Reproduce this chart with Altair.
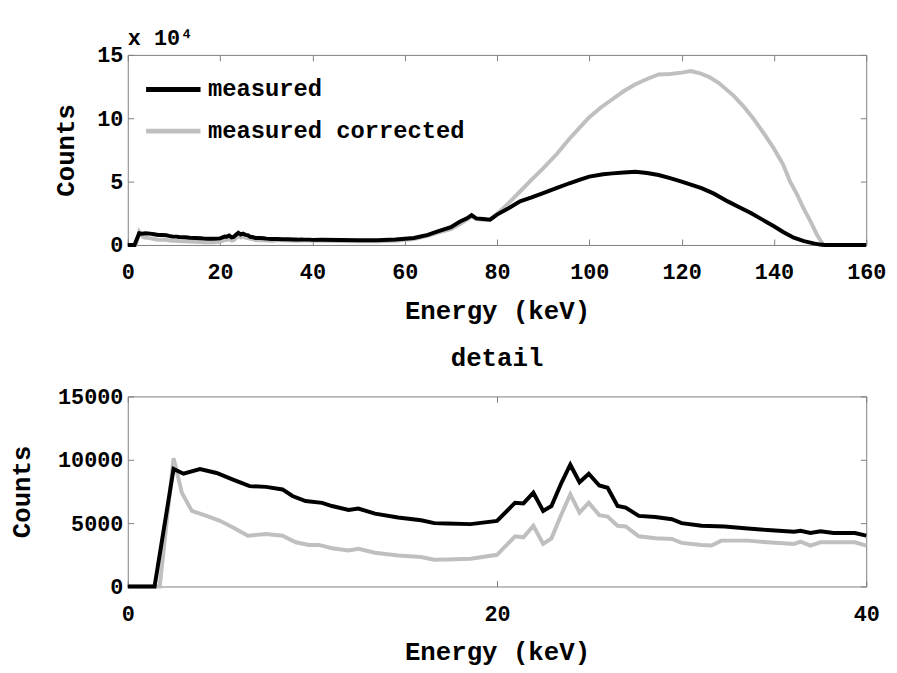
import altair as alt
import pandas as pd

FONT = "Liberation Mono"
BLACK = "#000000"
GRAY = "#bfbfbf"
FRAME = "#808080"

# ---- detail (0-40 keV) values ----
energy_measured_lo = [0, 1.45, 2.48, 3.02, 3.91, 4.81, 5.70, 6.60, 7.49, 8.38,
                      8.92, 9.63, 10.53, 11.06, 11.96, 12.49, 13.39, 14.64, 15.89, 16.6,
                      17.3, 18.57, 20.0, 20.98, 21.43, 21.97, 22.5, 22.95, 23.49, 23.97,
                      24.47, 24.97, 25.54, 25.99, 26.53, 26.97, 27.68, 28.58, 29.47, 30.0,
                      31.08, 32.33, 33.58, 34.65, 36.09, 36.44, 36.98, 37.52, 38.23, 39.39,
                      40.0]
counts_measured_lo = [0, 0, 9270, 8900, 9270, 8960, 8440, 7920, 7860, 7660,
                      7140, 6740, 6600, 6350, 6040, 6150, 5750, 5440, 5230, 5000,
                      4970, 4920, 5180, 6610, 6560, 7400, 5960, 6350, 8180, 9610,
                      8230, 8900, 7970, 7790, 6350, 6220, 5570, 5490, 5310, 5000,
                      4790, 4740, 4580, 4450, 4320, 4400, 4220, 4350, 4220, 4220,
                      4010]

energy_corrected_lo = [0, 1.73, 2.48, 2.93, 3.47, 4.27, 4.99, 5.70, 6.51, 7.49,
                       8.38, 9.1, 9.81, 10.35, 11.06, 11.96, 12.49, 13.39, 14.64, 15.89,
                       16.6, 17.3, 18.57, 20.0, 20.98, 21.43, 21.97, 22.5, 22.95, 23.49,
                       23.97, 24.47, 24.97, 25.54, 25.99, 26.53, 26.97, 27.68, 28.58, 29.47,
                       30.0, 31.08, 31.62, 32.15, 33.58, 34.65, 36.09, 36.44, 36.98, 37.52,
                       39.39, 40.0]
counts_corrected_lo = [0, 0, 10130, 7400, 5960, 5570, 5180, 4660, 4010, 4140,
                       4010, 3490, 3280, 3280, 3020, 2840, 2970, 2660, 2450, 2320,
                       2110, 2130, 2190, 2500, 3960, 3880, 4790, 3360, 3800, 5700,
                       7270, 5830, 6610, 5630, 5520, 4790, 4740, 3960, 3800, 3750,
                       3440, 3280, 3230, 3620, 3620, 3490, 3360, 3540, 3230, 3490,
                       3490, 3230]

# ---- rest of the spectrum (40-160 keV) ----
energy_measured_hi = [42, 46, 50, 54, 58, 62, 65, 67, 70, 72,
                      73.5, 74.5, 75.5, 77, 78.5, 80, 82.5, 85, 87.5, 90,
                      93, 95.7, 98, 100, 103, 105, 107.5, 110, 112.5, 115,
                      117.5, 120, 124.3, 127, 130, 132.5, 135, 137.5, 140, 142,
                      144.3, 146.5, 148.6, 150, 151, 160]
counts_measured_hi = [4100, 3900, 3800, 3800, 4300, 5500, 8000, 10500, 14000, 18500,
                      21000, 23500, 21000, 20500, 20000, 24000, 29000, 34400, 37500, 40900,
                      45000, 48700, 51500, 53900, 55800, 56500, 57200, 57800, 56800, 55200,
                      52800, 50000, 44800, 40500, 34400, 29800, 25200, 20000, 14800, 10200,
                      5700, 3000, 1300, 300, 0, 0]

energy_corrected_hi = [42, 46, 50, 54, 58, 62, 65, 67, 70, 72,
                       73.5, 74.5, 75.5, 77, 78.5, 80, 82.5, 85, 87.5, 90,
                       93, 95.7, 98, 100, 102.5, 105, 107.5, 110, 112.5, 115,
                       117.5, 120, 122, 124, 126, 128, 131.3, 133.5, 135.6, 138,
                       140, 142, 143.5, 145, 146.4, 148, 149.3, 150.7, 152, 160]
counts_corrected_hi = [3300, 3100, 3000, 3000, 3400, 4600, 7200, 9500, 12500, 16500,
                       20000, 22500, 20500, 19800, 20000, 24500, 33000, 42200, 51500, 60400,
                       72000, 83800, 93000, 100800, 108500, 115000, 121500, 126800, 131000, 134600,
                       135000, 136000, 137200, 135500, 132500, 128000, 117700, 109000, 99500, 87000,
                       76000, 63500, 50000, 40000, 29000, 18000, 8300, 0, 0, 0]

series_names = ["measured", "measured corrected"]
top_x_ticks = [0, 20, 40, 60, 80, 100, 120, 140, 160]
top_y_ticks = [0, 50000, 100000, 150000]
bot_x_ticks = [0, 20, 40]
bot_y_ticks = [0, 5000, 10000, 15000]


def frame(e, c, name):
    return pd.DataFrame({"energy": e, "counts": c, "series": name})


full_m = frame(energy_measured_lo + energy_measured_hi,
               counts_measured_lo + counts_measured_hi, series_names[0])
full_c = frame(energy_corrected_lo + energy_corrected_hi,
               counts_corrected_lo + counts_corrected_hi, series_names[1])
det_m = frame(energy_measured_lo, counts_measured_lo, series_names[0])
det_c = frame(energy_corrected_lo, counts_corrected_lo, series_names[1])

W, H = 746, 192


def panel(df_m, df_c, xdom, xt, ydom, yt, ylab_expr, title, with_legend, ytitle_pad):
    xs = alt.Scale(domain=xdom, nice=False, zero=False)
    ys = alt.Scale(domain=ydom, nice=False, zero=False)
    xaxis = alt.Axis(orient="bottom", values=xt, title="Energy (keV)", offset=-6,
                     tickSize=6, domain=False, grid=False, labelPadding=17,
                     titlePadding=15, labelFlush=False)
    yaxis = alt.Axis(orient="left", values=yt, title="Counts", offset=-6,
                     tickSize=6, domain=False, grid=False, labelPadding=5,
                     titlePadding=ytitle_pad, labelExpr=ylab_expr)
    if with_legend:
        col = alt.Color("series:N",
                        scale=alt.Scale(domain=series_names, range=[BLACK, GRAY]),
                        legend=alt.Legend(orient="none", legendX=16, legendY=5,
                                          title=None, symbolType="stroke",
                                          symbolSize=3025, symbolStrokeWidth=5,
                                          labelFont=FONT, labelFontSize=24,
                                          labelFontWeight="bold", labelOffset=5,
                                          labelLimit=600,
                                          rowPadding=-18, labelColor="black"))
        cg = col
        cb = col
    else:
        cg = alt.value(GRAY)
        cb = alt.value(BLACK)
    gray = alt.Chart(df_c).mark_line(strokeWidth=4).encode(
        x=alt.X("energy:Q", scale=xs, axis=xaxis),
        y=alt.Y("counts:Q", scale=ys, axis=yaxis),
        color=cg,
    )
    black = alt.Chart(df_m).mark_line(strokeWidth=4).encode(
        x=alt.X("energy:Q", scale=xs, axis=None),
        y=alt.Y("counts:Q", scale=ys, axis=None),
        color=cb,
    )
    mirror = alt.Chart(df_m).mark_line(opacity=0).encode(
        x=alt.X("energy:Q", scale=xs,
                axis=alt.Axis(orient="top", values=xt, labels=False, title=None,
                              offset=-6, tickSize=6, domain=False, grid=False)),
        y=alt.Y("counts:Q", scale=ys,
                axis=alt.Axis(orient="right", values=yt, labels=False, title=None,
                              offset=-6, tickSize=6, domain=False, grid=False)),
    )
    return alt.layer(gray, black, mirror).resolve_scale(
        x="independent", y="independent").properties(width=W, height=H, title=title)


top = panel(full_m, full_c, [0, 160], top_x_ticks, [0, 150000], top_y_ticks,
            "datum.value / 10000",
            alt.TitleParams("x 10\u2074", anchor="start", frame="group", fontSize=22,
                            font=FONT, fontWeight="bold", offset=2, dy=8,
                            color="black"),
            True, 18)
bottom = panel(det_m, det_c, [0, 40], bot_x_ticks, [0, 15000], bot_y_ticks,
               "format(datum.value, 'd')",
               alt.TitleParams("detail", anchor="middle", frame="group", fontSize=26,
                               font=FONT, fontWeight="bold", offset=15, color="black"),
               False, 23)

chart = alt.vconcat(top, bottom, spacing=20).properties(
    padding={"left": 0, "right": 2, "top": 15, "bottom": 2},
    background="white",
).configure_view(stroke=FRAME, strokeWidth=1).configure_axis(
    labelFont=FONT, labelFontSize=22, labelFontWeight="bold", labelColor="black",
    titleFont=FONT, titleFontSize=26, titleFontWeight="bold", titleColor="black",
    tickColor=FRAME, tickWidth=1
)

chart.save("out.html", embed_options={"renderer": "svg", "actions": False})
